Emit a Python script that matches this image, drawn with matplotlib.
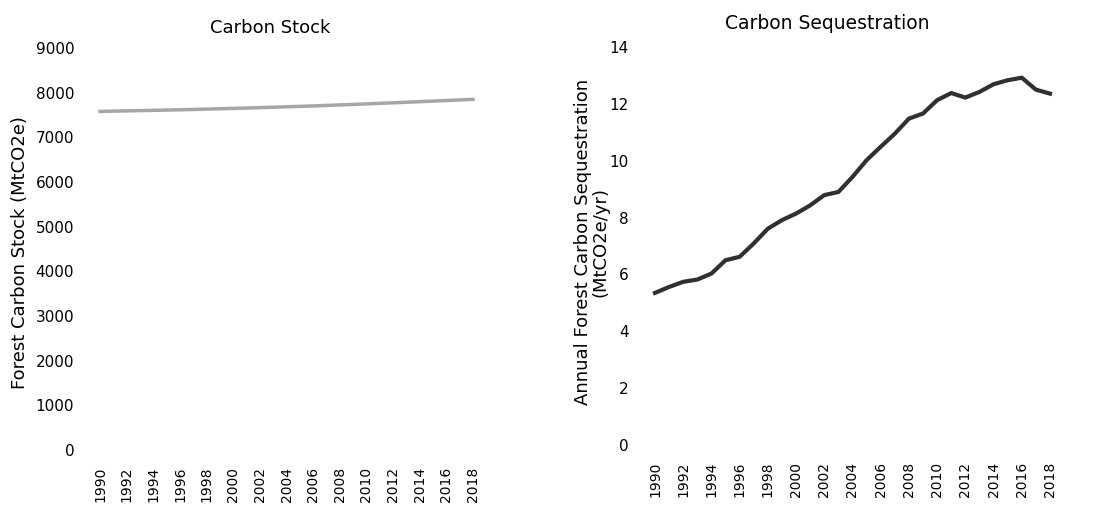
import matplotlib.pyplot as plt

# ── Data ──────────────────────────────────────────────────────────────────────
years = list(range(1990, 2019))
stock = [7580, 7586, 7592, 7598, 7604, 7611, 7617, 7624, 7632, 7640,
         7648, 7656, 7665, 7674, 7683, 7693, 7703, 7714, 7725, 7737,
         7749, 7761, 7773, 7786, 7798, 7811, 7824, 7837, 7850]
sequestration = [5.35, 5.56, 5.74, 5.82, 6.03, 6.50, 6.62, 7.09, 7.61, 7.91,
                 8.14, 8.43, 8.79, 8.90, 9.43, 10.02, 10.49, 10.95, 11.48, 11.66,
                 12.13, 12.38, 12.22, 12.42, 12.69, 12.83, 12.92, 12.50, 12.36]
tick_years = list(range(1990, 2019, 2))

plt.rcParams['font.family'] = ['DejaVu Sans']

fig = plt.figure(figsize=(11.09, 5.08), dpi=100)
ax1 = fig.add_axes([0.0782, 0.1142, 0.3603, 0.7913])
ax2 = fig.add_axes([0.5779, 0.124, 0.3816, 0.7835])


def style(ax):
    for s in ax.spines.values():
        s.set_visible(False)
    ax.set_xlim(1989, 2019)
    ax.set_xticks(tick_years)
    ax.set_xticklabels([str(y) for y in tick_years], rotation=90, fontsize=10)
    ax.tick_params(axis="x", length=0, pad=12)
    ax.tick_params(axis="y", length=0, pad=9, labelsize=11)


# ── Left: carbon stock ───────────────────────────────────────────────────────
ax1.plot(years, stock, color="#a6a6a6", linewidth=2.5)
style(ax1)
ax1.set_ylim(0, 9000)
ax1.set_yticks(range(0, 9001, 1000))
ax1.set_ylabel("Forest Carbon Stock (MtCO2e)", fontsize=13)
ax1.yaxis.set_label_coords(-0.145, 0.49)
ax1.text(0.459, 1.05, "Carbon Stock", transform=ax1.transAxes,
         ha="center", va="center", fontsize=13)

# ── Right: annual sequestration ──────────────────────────────────────────────
ax2.plot(years, sequestration, color="#303030", linewidth=3)
style(ax2)
ax2.set_ylim(0, 14)
ax2.set_yticks(range(0, 15, 2))
ax2.set_ylabel("Annual Forest Carbon Sequestration\n(MtCO2e/yr)", fontsize=13,
               linespacing=1.0)
ax2.yaxis.set_label_coords(-0.073, 0.51)
ax2.text(0.44, 1.06, "Carbon Sequestration", transform=ax2.transAxes,
         ha="center", va="center", fontsize=13.5)

fig.savefig("out.png", dpi=100)
